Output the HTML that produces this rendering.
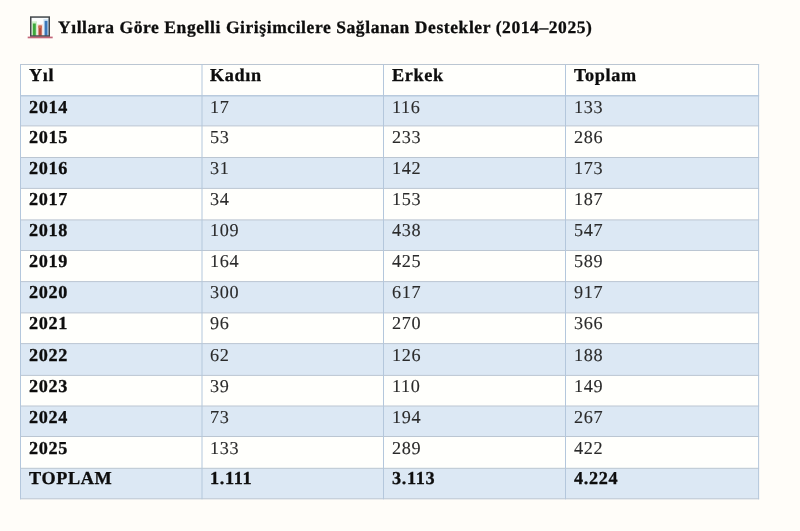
<!DOCTYPE html><html><head><meta charset="utf-8"><style>
html,body{margin:0;padding:0;}
body{text-rendering:geometricPrecision;width:800px;height:531px;background:#fffdf9;position:relative;overflow:hidden;font-family:"Liberation Serif",serif;}
.t{position:absolute;white-space:nowrap;line-height:1;will-change:transform;}
.r{position:absolute;left:20.5px;width:738.1px;}
.hl{position:absolute;height:1px;left:20.5px;width:739.1px;background:#bbc6d2;}
.vl{position:absolute;width:1px;top:64.5px;height:435.3px;background:#bbc6d2;}
.c{position:absolute;will-change:transform;-webkit-text-stroke:0.12px #2a2a2a;font-size:18.2px;letter-spacing:0.65px;line-height:1;white-space:nowrap;color:#2a2a2a;}
.b{font-weight:bold;color:#0d0d0d;-webkit-text-stroke:0.3px #0d0d0d;}

</style></head><body>
<svg style="position:absolute;left:0;top:0" width="60" height="45" viewBox="0 0 60 45">
<rect x="30.8" y="17" width="18.5" height="19" fill="#fbfdfd"/>
<rect x="31.6" y="21.3" width="5.4" height="14.5" fill="#cfeec9"/>
<rect x="37.3" y="24.2" width="5.6" height="11.6" fill="#f7dcd4"/>
<rect x="43.4" y="18.9" width="5.6" height="17" fill="#d2e6f6"/>
<rect x="32.85" y="23.5" width="2.95" height="12.3" fill="#3da83b"/>
<rect x="38.5" y="25.6" width="3.2" height="10.2" fill="#b84c3c"/><rect x="38.5" y="25.6" width="3.2" height="2.5" fill="#d06a4e"/>
<rect x="44.6" y="20.85" width="2.9" height="15" fill="#3b77b8"/>
<rect x="30.75" y="17.05" width="18.5" height="19" fill="none" stroke="#43474b" stroke-width="1.5"/>
<rect x="27.7" y="36.6" width="25" height="1.7" fill="#b84a62" opacity="0.85"/>
</svg>
<div class="t" style="left:58px;top:18.84px;font-size:17.5px;letter-spacing:0.58px;font-weight:bold;-webkit-text-stroke:0.3px #0d0d0d;color:#0d0d0d">Yıllara Göre Engelli Girişimcilere Sağlanan Destekler (2014–2025)</div>
<svg style="position:absolute;left:0;top:0" width="800" height="531" viewBox="0 0 800 531">
<rect x="20.5" y="64.5" width="738.1" height="31.299999999999997" fill="#fffffc"/>
<rect x="20.5" y="95.8" width="738.1" height="30.10000000000001" fill="#dce8f4"/>
<rect x="20.5" y="125.9" width="738.1" height="31.599999999999994" fill="#fffffc"/>
<rect x="20.5" y="157.5" width="738.1" height="30.900000000000006" fill="#dce8f4"/>
<rect x="20.5" y="188.4" width="738.1" height="31.5" fill="#fffffc"/>
<rect x="20.5" y="219.9" width="738.1" height="30.599999999999994" fill="#dce8f4"/>
<rect x="20.5" y="250.5" width="738.1" height="31.100000000000023" fill="#fffffc"/>
<rect x="20.5" y="281.6" width="738.1" height="31.299999999999955" fill="#dce8f4"/>
<rect x="20.5" y="312.9" width="738.1" height="30.700000000000045" fill="#fffffc"/>
<rect x="20.5" y="343.6" width="738.1" height="31.799999999999955" fill="#dce8f4"/>
<rect x="20.5" y="375.4" width="738.1" height="30.600000000000023" fill="#fffffc"/>
<rect x="20.5" y="406.0" width="738.1" height="30.5" fill="#dce8f4"/>
<rect x="20.5" y="436.5" width="738.1" height="31.80000000000001" fill="#fffffc"/>
<rect x="20.5" y="468.3" width="738.1" height="30.5" fill="#dce8f4"/>
<rect x="20.0" y="64.0" width="739.1" height="1" fill="#bbc6d2"/>
<rect x="20.0" y="95.3" width="739.1" height="1" fill="#9fb5d0"/>
<rect x="20.0" y="125.4" width="739.1" height="1" fill="#bbc6d2"/>
<rect x="20.0" y="157.0" width="739.1" height="1" fill="#bbc6d2"/>
<rect x="20.0" y="187.9" width="739.1" height="1" fill="#bbc6d2"/>
<rect x="20.0" y="219.4" width="739.1" height="1" fill="#bbc6d2"/>
<rect x="20.0" y="250.0" width="739.1" height="1" fill="#bbc6d2"/>
<rect x="20.0" y="281.1" width="739.1" height="1" fill="#bbc6d2"/>
<rect x="20.0" y="312.4" width="739.1" height="1" fill="#bbc6d2"/>
<rect x="20.0" y="343.1" width="739.1" height="1" fill="#bbc6d2"/>
<rect x="20.0" y="374.9" width="739.1" height="1" fill="#bbc6d2"/>
<rect x="20.0" y="405.5" width="739.1" height="1" fill="#bbc6d2"/>
<rect x="20.0" y="436.0" width="739.1" height="1" fill="#bbc6d2"/>
<rect x="20.0" y="467.8" width="739.1" height="1" fill="#bbc6d2"/>
<rect x="20.0" y="498.3" width="739.1" height="1" fill="#bbc6d2"/>
<rect x="20.0" y="64.0" width="1" height="435.3" fill="#b4c7dc"/>
<rect x="201.5" y="64.0" width="1" height="435.3" fill="#b4c7dc"/>
<rect x="383.0" y="64.0" width="1" height="435.3" fill="#b4c7dc"/>
<rect x="565.0" y="64.0" width="1" height="435.3" fill="#b4c7dc"/>
<rect x="758.1" y="64.0" width="1" height="435.3" fill="#b4c7dc"/>
</svg>
<div class="c b" style="left:28.50px;top:66.06px">Yıl</div>
<div class="c b" style="left:210.00px;top:66.06px">Kadın</div>
<div class="c b" style="left:391.80px;top:66.06px">Erkek</div>
<div class="c b" style="left:573.80px;top:66.06px">Toplam</div>
<div class="c b" style="left:28.50px;top:97.96px">2014</div>
<div class="c" style="left:210.00px;top:97.96px">17</div>
<div class="c" style="left:391.80px;top:97.96px">116</div>
<div class="c" style="left:573.80px;top:97.96px">133</div>
<div class="c b" style="left:28.50px;top:127.96px">2015</div>
<div class="c" style="left:210.00px;top:127.96px">53</div>
<div class="c" style="left:391.80px;top:127.96px">233</div>
<div class="c" style="left:573.80px;top:127.96px">286</div>
<div class="c b" style="left:28.50px;top:158.96px">2016</div>
<div class="c" style="left:210.00px;top:158.96px">31</div>
<div class="c" style="left:391.80px;top:158.96px">142</div>
<div class="c" style="left:573.80px;top:158.96px">173</div>
<div class="c b" style="left:28.50px;top:189.96px">2017</div>
<div class="c" style="left:210.00px;top:189.96px">34</div>
<div class="c" style="left:391.80px;top:189.96px">153</div>
<div class="c" style="left:573.80px;top:189.96px">187</div>
<div class="c b" style="left:28.50px;top:220.96px">2018</div>
<div class="c" style="left:210.00px;top:220.96px">109</div>
<div class="c" style="left:391.80px;top:220.96px">438</div>
<div class="c" style="left:573.80px;top:220.96px">547</div>
<div class="c b" style="left:28.50px;top:251.96px">2019</div>
<div class="c" style="left:210.00px;top:251.96px">164</div>
<div class="c" style="left:391.80px;top:251.96px">425</div>
<div class="c" style="left:573.80px;top:251.96px">589</div>
<div class="c b" style="left:28.50px;top:282.96px">2020</div>
<div class="c" style="left:210.00px;top:282.96px">300</div>
<div class="c" style="left:391.80px;top:282.96px">617</div>
<div class="c" style="left:573.80px;top:282.96px">917</div>
<div class="c b" style="left:28.50px;top:313.96px">2021</div>
<div class="c" style="left:210.00px;top:313.96px">96</div>
<div class="c" style="left:391.80px;top:313.96px">270</div>
<div class="c" style="left:573.80px;top:313.96px">366</div>
<div class="c b" style="left:28.50px;top:345.96px">2022</div>
<div class="c" style="left:210.00px;top:345.96px">62</div>
<div class="c" style="left:391.80px;top:345.96px">126</div>
<div class="c" style="left:573.80px;top:345.96px">188</div>
<div class="c b" style="left:28.50px;top:376.96px">2023</div>
<div class="c" style="left:210.00px;top:376.96px">39</div>
<div class="c" style="left:391.80px;top:376.96px">110</div>
<div class="c" style="left:573.80px;top:376.96px">149</div>
<div class="c b" style="left:28.50px;top:407.96px">2024</div>
<div class="c" style="left:210.00px;top:407.96px">73</div>
<div class="c" style="left:391.80px;top:407.96px">194</div>
<div class="c" style="left:573.80px;top:407.96px">267</div>
<div class="c b" style="left:28.50px;top:438.96px">2025</div>
<div class="c" style="left:210.00px;top:438.96px">133</div>
<div class="c" style="left:391.80px;top:438.96px">289</div>
<div class="c" style="left:573.80px;top:438.96px">422</div>
<div class="c b" style="left:28.50px;top:468.96px">TOPLAM</div>
<div class="c b" style="left:210.00px;top:468.96px">1.111</div>
<div class="c b" style="left:391.80px;top:468.96px">3.113</div>
<div class="c b" style="left:573.80px;top:468.96px">4.224</div>
</body></html>
